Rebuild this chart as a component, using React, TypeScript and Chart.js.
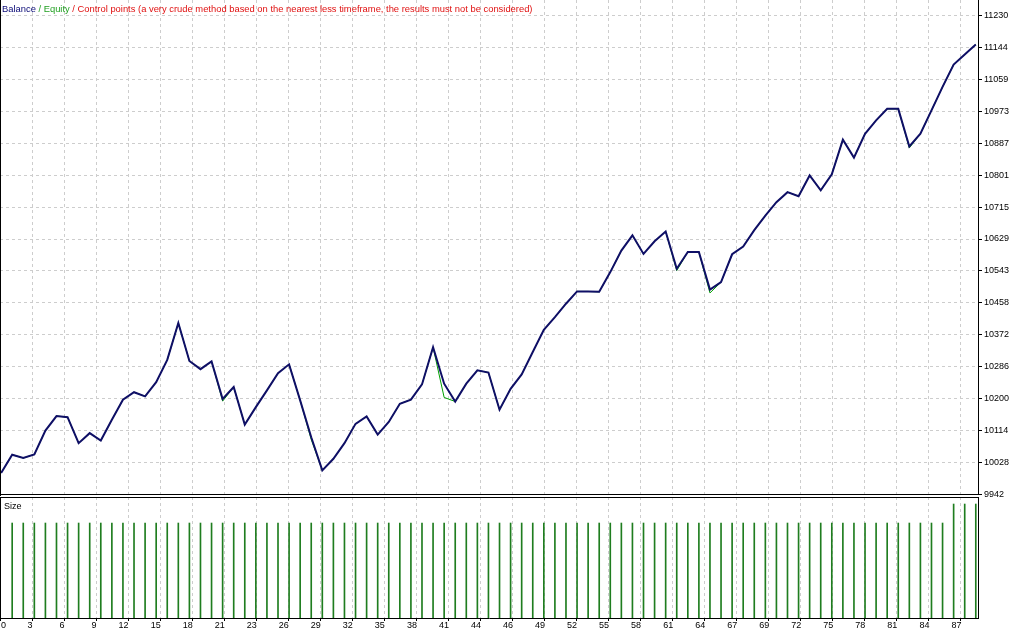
import React, { useEffect, useRef } from 'react';
import { Chart, registerables } from 'chart.js';

Chart.register(...registerables);

// ---------- data ----------
const balance = [
  10000, 10049, 10040, 10050, 10114, 10153, 10150, 10080, 10107, 10087,
  10143, 10197, 10217, 10206, 10244, 10304, 10403, 10301, 10279, 10300,
  10199, 10231, 10130, 10177, 10222, 10268, 10292, 10195, 10096, 10007,
  10038, 10080, 10132, 10152, 10103, 10137, 10186, 10197, 10238, 10338,
  10240, 10192, 10240, 10276, 10270, 10170, 10226, 10265, 10325, 10385,
  10419, 10455, 10488, 10488, 10487, 10540, 10598, 10639, 10589, 10623,
  10649, 10549, 10594, 10594, 10493, 10513, 10588, 10609, 10653, 10692,
  10728, 10755, 10744, 10800, 10760, 10803, 10896, 10848, 10912, 10948,
  10979, 10979, 10878, 10912, 10975, 11038, 11098, 11125, 11152,
];

const equity = [
  10000, 10049, 10040, 10050, 10114, 10153, 10150, 10080, 10107, 10087,
  10143, 10197, 10217, 10206, 10244, 10304, 10403, 10301, 10279, 10300,
  10193, 10231, 10130, 10177, 10222, 10268, 10292, 10195, 10090, 10007,
  10038, 10080, 10132, 10152, 10103, 10137, 10186, 10197, 10238, 10338,
  10203, 10192, 10240, 10276, 10270, 10170, 10226, 10265, 10325, 10385,
  10419, 10455, 10488, 10488, 10487, 10540, 10598, 10639, 10589, 10623,
  10649, 10544, 10594, 10594, 10484, 10513, 10588, 10609, 10653, 10692,
  10728, 10755, 10744, 10800, 10760, 10803, 10896, 10848, 10912, 10948,
  10979, 10979, 10874, 10912, 10975, 11038, 11098, 11125, 11152,
];

// lot size of trades 1..88
const lotSizes = [
  0.1, 0.1, 0.1, 0.1, 0.1, 0.1, 0.1, 0.1, 0.1, 0.1,
  0.1, 0.1, 0.1, 0.1, 0.1, 0.1, 0.1, 0.1, 0.1, 0.1,
  0.1, 0.1, 0.1, 0.1, 0.1, 0.1, 0.1, 0.1, 0.1, 0.1,
  0.1, 0.1, 0.1, 0.1, 0.1, 0.1, 0.1, 0.1, 0.1, 0.1,
  0.1, 0.1, 0.1, 0.1, 0.1, 0.1, 0.1, 0.1, 0.1, 0.1,
  0.1, 0.1, 0.1, 0.1, 0.1, 0.1, 0.1, 0.1, 0.1, 0.1,
  0.1, 0.1, 0.1, 0.1, 0.1, 0.1, 0.1, 0.1, 0.1, 0.1,
  0.1, 0.1, 0.1, 0.1, 0.1, 0.1, 0.1, 0.1, 0.1, 0.1,
  0.1, 0.1, 0.1, 0.1, 0.1, 0.12, 0.12, 0.12,
];

const xTickLabels = [
  '0', '3', '6', '9', '12', '15', '18', '21', '23', '26', '29', '32', '35', '38', '41',
  '44', '46', '49', '52', '55', '58', '61', '64', '67', '69', '72', '75', '78', '81', '84', '87',
];

const yTickValues = [
  9942, 10028, 10114, 10200, 10286, 10372, 10458, 10543, 10629, 10715,
  10801, 10887, 10973, 11059, 11144, 11230,
];

const legendParts = [
  { text: 'Balance', color: '#0c0c78' },
  { text: ' / Equity', color: '#22a022' },
  { text: ' / Control points (a very crude method based on the nearest less timeframe, the results must not be considered)', color: '#e01010' },
];

// ---------- styling ----------
const FONT_FAMILY = '"Liberation Sans", Arial, sans-serif';
const FONT_SIZE = 9;
const LEGEND_FONT_SIZE = 9.4;
const BAL_COLOR = '#0f0f66';
const EQ_COLOR = '#00a000';
const SIZE_COLOR = '#1f7d1f';
const GRID_COLOR = '#cdcdcd';
const X_MIN = -0.1;
const X_MAX = 88.2;
const X_GRID_STEP = 2.892;
const Y_MIN = 9942;
const Y_MAX = 11271.7;
const SIZE_MAX = 0.1274;

const xTickBuilder = (scale: any) => {
  scale.ticks = xTickLabels.map((_, k) => ({ value: X_MIN + k * X_GRID_STEP }));
};

export default function App() {
  const mainRef = useRef<HTMLCanvasElement>(null);
  const sizeRef = useRef<HTMLCanvasElement>(null);

  useEffect(() => {
    document.body.style.margin = '0';
    const font = { family: FONT_FAMILY, size: FONT_SIZE };

    const mainFrame = {
      id: 'mainFrame',
      afterDraw(chart: any) {
        const { ctx, chartArea } = chart;
        ctx.save();
        ctx.fillStyle = '#000';
        ctx.fillRect(0, 0, 1, Math.round(chartArea.bottom) + 1);
        ctx.fillRect(0, Math.floor(chartArea.bottom), Math.round(chartArea.right) + 1, 1);
        ctx.font = `${LEGEND_FONT_SIZE}px ${FONT_FAMILY}`;
        ctx.textBaseline = 'middle';
        ctx.textAlign = 'left';
        let x = 2;
        for (const p of legendParts) {
          ctx.fillStyle = p.color;
          ctx.fillText(p.text, x, 9);
          x += ctx.measureText(p.text).width;
        }
        ctx.restore();
      },
    };

    const sizeFrame = {
      id: 'sizeFrame',
      afterDraw(chart: any) {
        const { ctx, chartArea, scales } = chart;
        ctx.save();
        ctx.fillStyle = '#000';
        const right = Math.round(chartArea.right);
        const bottom = Math.round(chartArea.bottom);
        ctx.fillRect(0, 0, right + 1, 1);
        ctx.fillRect(0, 0, 1, bottom + 1);
        ctx.fillRect(right, 0, 1, bottom + 1);
        ctx.font = `${FONT_SIZE}px ${FONT_FAMILY}`;
        ctx.textBaseline = 'middle';
        ctx.textAlign = 'left';
        ctx.fillText('Size', 4, 9.5);
        const xs = scales.x;
        xTickLabels.forEach((lab, k) => {
          const px = xs.getPixelForValue(X_MIN + k * X_GRID_STEP);
          if (k === 0) {
            ctx.textAlign = 'left';
            ctx.fillText(lab, 1, chartArea.bottom + 7.5);
          } else {
            ctx.textAlign = 'right';
            ctx.fillText(lab, px + 0.5, chartArea.bottom + 7.5);
          }
        });
        ctx.restore();
      },
    };

    const main = new Chart(mainRef.current as HTMLCanvasElement, {
      type: 'line',
      data: {
        datasets: [
          {
            label: 'Balance',
            data: balance.map((y, i) => ({ x: i, y })),
            borderColor: BAL_COLOR,
            borderWidth: 2,
            pointRadius: 0,
            tension: 0,
            fill: false,
          },
          {
            label: 'Equity',
            data: equity.map((y, i) => ({ x: i, y })),
            borderColor: EQ_COLOR,
            borderWidth: 1,
            pointRadius: 0,
            tension: 0,
            fill: false,
          },
        ],
      },
      options: {
        animation: false,
        responsive: false,
        events: [],
        layout: { padding: { top: 0, left: 0, right: 0, bottom: 10.5 } },
        plugins: { legend: { display: false }, tooltip: { enabled: false } },
        scales: {
          x: {
            type: 'linear',
            min: X_MIN,
            max: X_MAX,
            bounds: 'data',
            afterBuildTicks: xTickBuilder,
            ticks: { display: false },
            grid: { color: GRID_COLOR, drawTicks: false },
            border: { display: false, dash: [3, 3] },
          },
          y: {
            type: 'linear',
            position: 'right',
            min: Y_MIN,
            max: Y_MAX,
            bounds: 'data',
            afterBuildTicks: (scale: any) => {
              scale.ticks = yTickValues.map((v) => ({ value: v }));
            },
            afterFit: (scale: any) => {
              scale.width = 35;
              scale.paddingTop = 0;
              scale.paddingBottom = 0;
            },
            ticks: {
              color: '#000',
              font,
              padding: 2,
              callback: (v: any) => String(v),
            },
            grid: { color: GRID_COLOR, tickColor: '#000', tickLength: 4, tickBorderDash: [] },
            border: { display: true, color: '#000', width: 1, dash: [3, 3] },
          },
        },
      } as any,
      plugins: [mainFrame],
    });

    const size = new Chart(sizeRef.current as HTMLCanvasElement, {
      type: 'bar',
      data: {
        datasets: [
          {
            label: 'Size',
            data: lotSizes.map((y, i) => ({ x: i + 1, y })),
            backgroundColor: SIZE_COLOR,
            borderWidth: 0,
            barThickness: 1,
          },
        ],
      },
      options: {
        animation: false,
        responsive: false,
        events: [],
        layout: { padding: { top: 0, left: 0, right: 35, bottom: 8 } },
        plugins: { legend: { display: false }, tooltip: { enabled: false } },
        scales: {
          x: {
            type: 'linear',
            min: X_MIN,
            max: X_MAX,
            bounds: 'data',
            offset: false,
            afterBuildTicks: xTickBuilder,
            ticks: { display: false },
            grid: {
              offset: false,
              color: GRID_COLOR,
              drawTicks: true,
              tickLength: 3,
              tickColor: '#000',
              tickBorderDash: [],
            },
            border: { display: true, color: '#000', width: 1, dash: [3, 3] },
          },
          y: {
            type: 'linear',
            display: false,
            min: 0,
            max: SIZE_MAX,
          },
        },
      } as any,
      plugins: [sizeFrame],
    });

    return () => {
      main.destroy();
      size.destroy();
    };
  }, []);

  return (
    <div style={{ position: 'fixed', left: 0, top: 0, width: 1013, height: 629, background: '#fff', overflow: 'hidden' }}>
      <canvas ref={mainRef} width={1013} height={505} style={{ position: 'absolute', left: 0, top: 0 }} />
      <canvas ref={sizeRef} width={1013} height={132} style={{ position: 'absolute', left: 0, top: 497 }} />
    </div>
  );
}
